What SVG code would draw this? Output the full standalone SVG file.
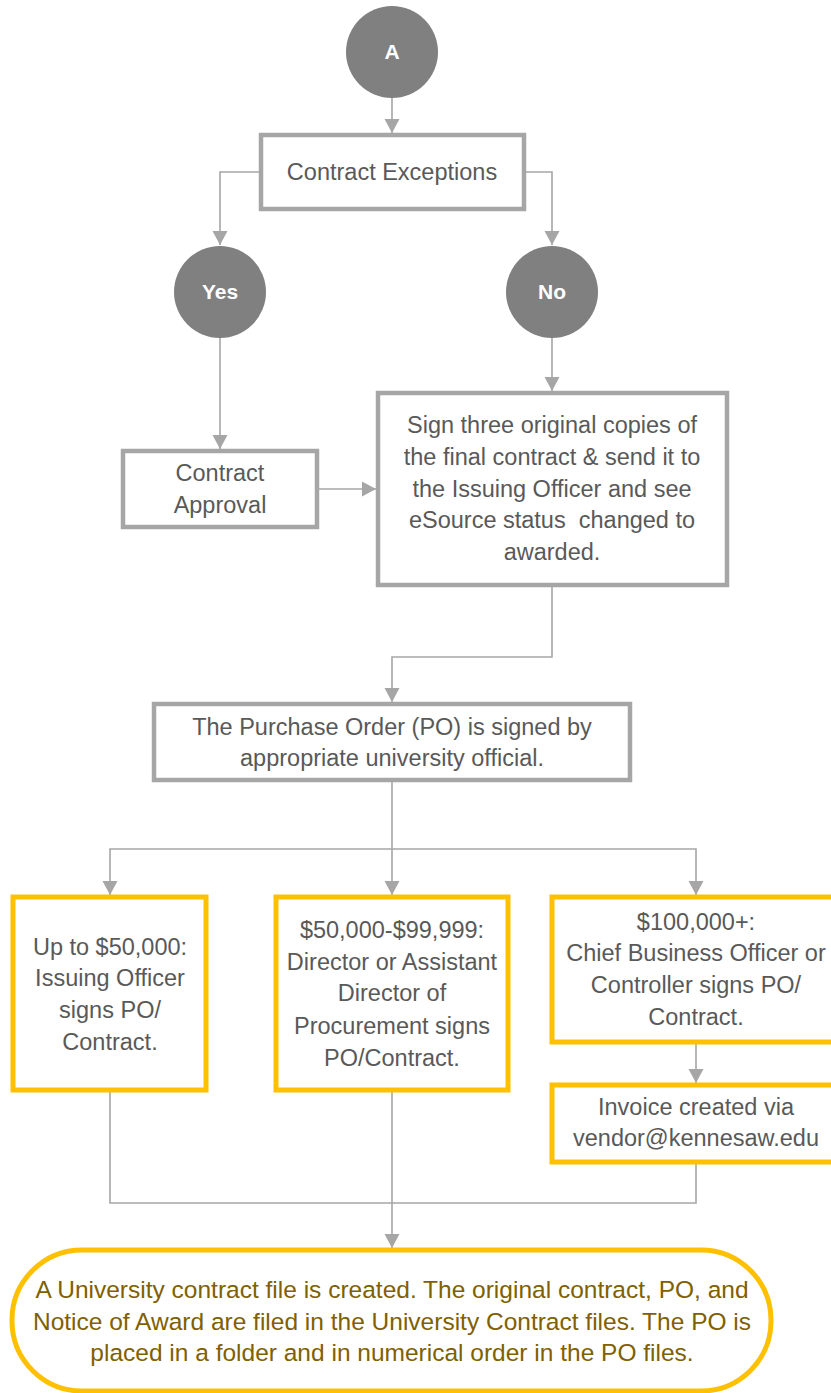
<svg xmlns="http://www.w3.org/2000/svg" width="831" height="1393" viewBox="0 0 831 1393">
<style>
.bg{fill:#FFFFFF}
.gbox{fill:#FFFFFF;stroke:#A6A6A6;stroke-width:4.5}
.ybox{fill:#FFFFFF;stroke:#FFC000;stroke-width:5}
.circ{fill:#808080}
.ct{font-family:"Liberation Sans",Arial,sans-serif;font-size:21px;font-weight:bold;fill:#FFFFFF;text-anchor:middle}
.t{font-family:"Liberation Sans",Arial,sans-serif;font-size:23.5px;fill:#595959;text-anchor:middle}
.ot{font-family:"Liberation Sans",Arial,sans-serif;font-size:24.5px;fill:#806000;text-anchor:middle}
.c{fill:none;stroke:#A6A6A6;stroke-width:1.6}
</style>
<defs>
<marker id="ah" markerUnits="userSpaceOnUse" markerWidth="18" markerHeight="18" viewBox="0 0 18 18" refX="15" refY="9" orient="auto">
<path d="M1,1.5 L15,9 L1,16.5 Z" fill="#A6A6A6"/>
</marker>
</defs>
<rect class="bg" x="0" y="0" width="831" height="1393"/>
<g id="connectors">
<path class="c" d="M392 98 V133" marker-end="url(#ah)"/>
<path class="c" d="M261 172 H220 V245" marker-end="url(#ah)"/>
<path class="c" d="M524 172 H552 V245" marker-end="url(#ah)"/>
<path class="c" d="M220 338 V449" marker-end="url(#ah)"/>
<path class="c" d="M552 338 V391" marker-end="url(#ah)"/>
<path class="c" d="M317 489 H376" marker-end="url(#ah)"/>
<path class="c" d="M552 585 V657 H392 V702" marker-end="url(#ah)"/>
<path class="c" d="M392 780 V895" marker-end="url(#ah)"/>
<path class="c" d="M392 849 H110 V895" marker-end="url(#ah)"/>
<path class="c" d="M392 849 H696 V895" marker-end="url(#ah)"/>
<path class="c" d="M696 1042 V1083" marker-end="url(#ah)"/>
<path class="c" d="M110 1090 V1203 H696 V1162"/>
<path class="c" d="M392 1090 V1248" marker-end="url(#ah)"/>
</g>
<g id="node-a">
<circle class="circ" cx="392" cy="52" r="46"/>
<text class="ct" x="392" y="59">A</text>
</g>
<g id="node-contract-exceptions">
<rect class="gbox" x="261" y="135" width="263" height="74"/>
<text class="t" x="392" y="180">Contract Exceptions</text>
</g>
<g id="node-yes">
<circle class="circ" cx="220" cy="292" r="46"/>
<text class="ct" x="220" y="299">Yes</text>
</g>
<g id="node-no">
<circle class="circ" cx="552" cy="292" r="46"/>
<text class="ct" x="552" y="299">No</text>
</g>
<g id="node-contract-approval">
<rect class="gbox" x="123" y="451" width="194" height="76"/>
<text class="t" x="220" y="481">Contract</text>
<text class="t" x="220" y="513">Approval</text>
</g>
<g id="node-sign">
<rect class="gbox" x="378" y="393" width="349" height="192"/>
<text class="t" x="552" y="433">Sign three original copies of</text>
<text class="t" x="552" y="465">the final contract &amp; send it to</text>
<text class="t" x="552" y="497">the Issuing Officer and see</text>
<text class="t" x="552" y="528" style="white-space:pre" xml:space="preserve">eSource status  changed to</text>
<text class="t" x="552" y="560">awarded.</text>
</g>
<g id="node-po">
<rect class="gbox" x="154" y="704" width="476" height="76"/>
<text class="t" x="392" y="735">The Purchase Order (PO) is signed by</text>
<text class="t" x="392" y="766">appropriate university official.</text>
</g>
<g id="node-up-to-50k">
<rect class="ybox" x="13" y="897" width="193" height="193"/>
<text class="t" x="110" y="955">Up to $50,000:</text>
<text class="t" x="110" y="986">Issuing Officer</text>
<text class="t" x="110" y="1018">signs PO/</text>
<text class="t" x="110" y="1050">Contract.</text>
</g>
<g id="node-50k-99k">
<rect class="ybox" x="276" y="897" width="232" height="193"/>
<text class="t" x="392" y="938">$50,000-$99,999:</text>
<text class="t" x="392" y="970">Director or Assistant</text>
<text class="t" x="392" y="1001">Director of</text>
<text class="t" x="392" y="1034">Procurement signs</text>
<text class="t" x="392" y="1066">PO/Contract.</text>
</g>
<g id="node-100k">
<rect class="ybox" x="552" y="897" width="288" height="145"/>
<text class="t" x="696" y="930">$100,000+:</text>
<text class="t" x="696" y="961">Chief Business Officer or</text>
<text class="t" x="696" y="993">Controller signs PO/</text>
<text class="t" x="696" y="1025">Contract.</text>
</g>
<g id="node-invoice">
<rect class="ybox" x="552" y="1085" width="288" height="77"/>
<text class="t" x="696" y="1115">Invoice created via</text>
<text class="t" x="696" y="1146">vendor@kennesaw.edu</text>
</g>
<g id="node-file">
<rect class="ybox" x="12" y="1250" width="759" height="141" rx="70" ry="70"/>
<text class="ot" x="392" y="1298">A University contract file is created. The original contract, PO, and</text>
<text class="ot" x="392" y="1330">Notice of Award are filed in the University Contract files. The PO is</text>
<text class="ot" x="392" y="1361">placed in a folder and in numerical order in the PO files.</text>
</g>
</svg>
